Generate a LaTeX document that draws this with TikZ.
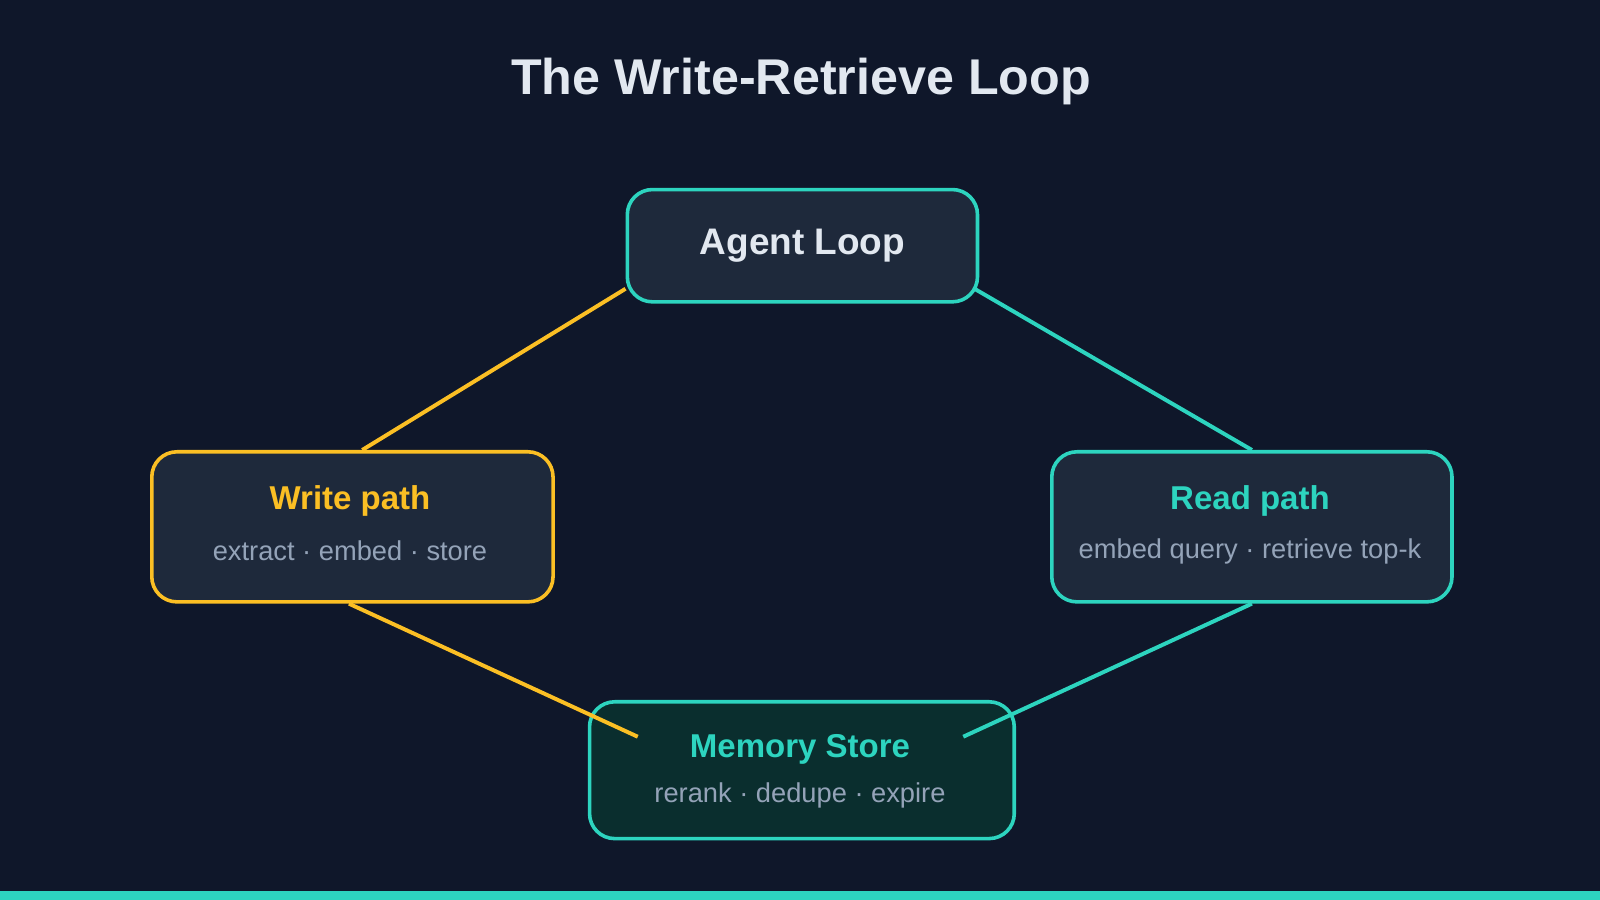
\documentclass[tikz,border=0pt]{standalone}
\usepackage{fontspec}
\setmainfont{Liberation Sans}
\usetikzlibrary{positioning}
\definecolor{bgnavy}{HTML}{0F172A}
\definecolor{boxfill}{HTML}{1E293B}
\definecolor{memfill}{HTML}{0A2E2E}
\definecolor{tealc}{HTML}{2DD4BF}
\definecolor{amberc}{HTML}{FBBF24}
\definecolor{titlec}{HTML}{E2E8F0}
\definecolor{subc}{HTML}{94A3B8}
\tikzset{
  stage/.style = {draw, rounded corners=7pt, line width=1pt, fill=boxfill, anchor=north west},
  head/.style = {font=\bfseries\fontsize{9.2}{11}\selectfont},
  sub/.style = {text=subc, font=\fontsize{7.6}{9}\selectfont},
  link/.style = {line width=1.1pt},
}
\begin{document}
\begin{tikzpicture}[x=0.01cm, y=-0.01cm]
  \fill[bgnavy] (0,0) rectangle (1568,882);
  \useasboundingbox (0,0) rectangle (1568,882);
  \fill[tealc] (0,873) rectangle (1568,882);

  \node[text=titlec, font=\bfseries\fontsize{14}{16}\selectfont] (title) at (785,80) {The Write-Retrieve Loop};

  % boxes
  \node[stage, draw=tealc, minimum width=3.43cm, minimum height=1.10cm] (agent) at (613,184) {};
  \node[text=titlec, font=\bfseries\fontsize{10.3}{12}\selectfont] (agentlbl) at (agent.center) {Agent Loop};

  \node[stage, draw=amberc, minimum width=3.93cm, minimum height=1.47cm] (write) at (147,441) {};
  \node[head, text=amberc] (writelbl) at (343,491) {Write path};
  \node[sub] (writesub) at (343,540) {extract · embed · store};

  \node[stage, draw=tealc, minimum width=3.92cm, minimum height=1.47cm] (read) at (1029,441) {};
  \node[head, text=tealc] (readlbl) at (1225,491) {Read path};
  \node[sub] (readsub) at (1225,540) {embed query · retrieve top-k};

  \node[stage, draw=tealc, fill=memfill, minimum width=4.16cm, minimum height=1.34cm] (memory) at (576,686) {};
  \node[head, text=tealc] (memlbl) at (784,734) {Memory Store};
  \node[sub] (memsub) at (784,780) {rerank · dedupe · expire};

  % connectors
  \coordinate (agentL) at (613,283);
  \coordinate (agentR) at (955,283);
  \coordinate (memL) at (625,722);
  \coordinate (memR) at (944,722);
  \draw[link, amberc] (agentL) -- (write.north -| 355,0);
  \draw[link, amberc] (write.south -| 342,0) -- (memL);
  \draw[link, tealc] (agentR) -- (read.north);
  \draw[link, tealc] (read.south) -- (memR);
\end{tikzpicture}
\end{document}
